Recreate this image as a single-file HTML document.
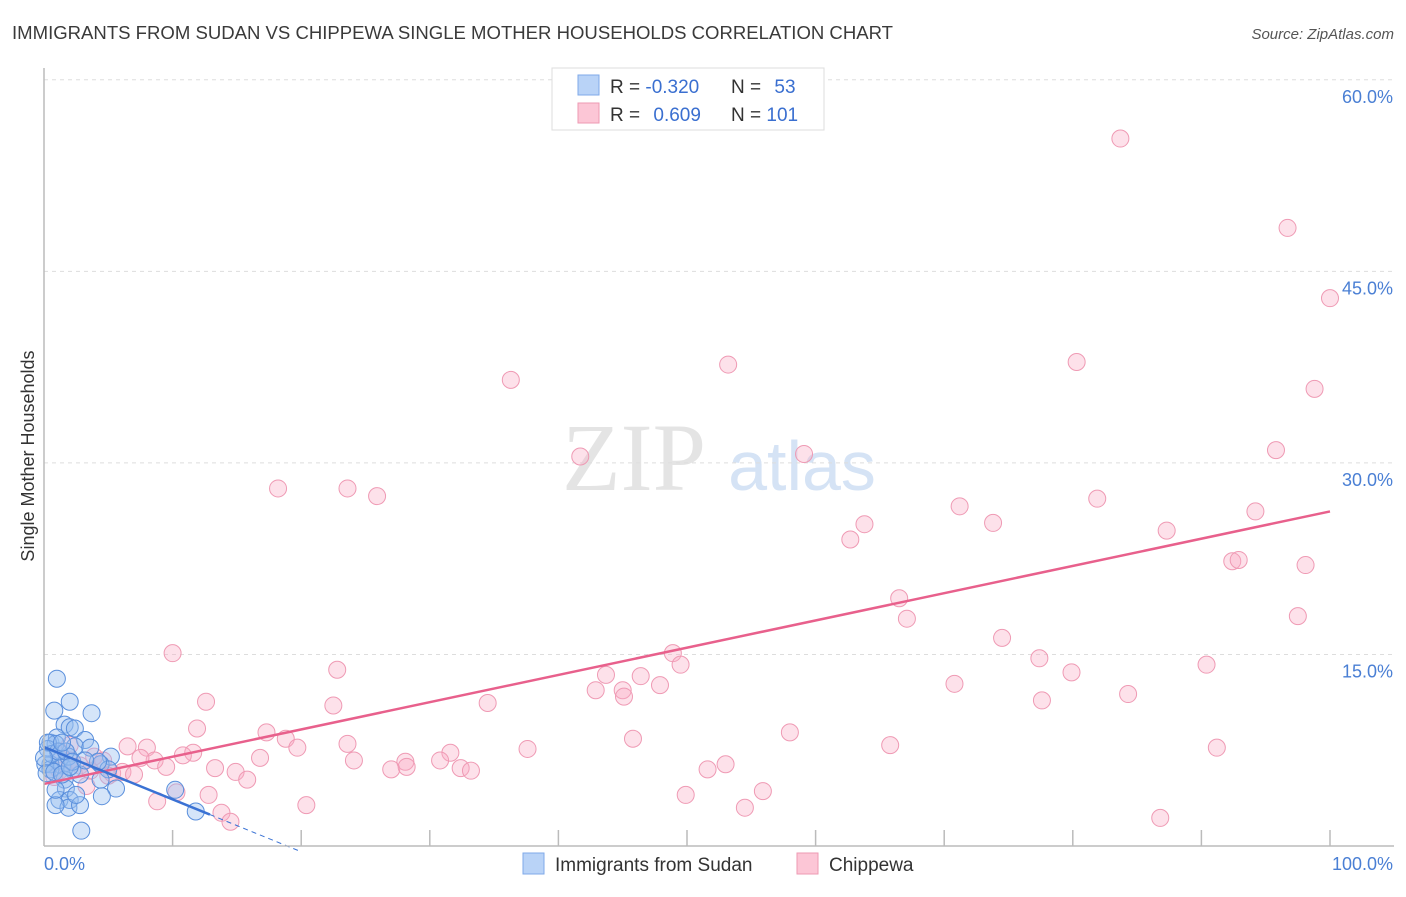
<!DOCTYPE html>
<html><head><meta charset="utf-8"><style>
body{margin:0;background:#fff;font-family:"Liberation Sans",sans-serif}
</style></head><body>
<svg id="c" width="1406" height="892" xmlns="http://www.w3.org/2000/svg" style="font-family:'Liberation Sans',sans-serif">
<text x="12" y="39" font-size="18" fill="#3a3a3a" textLength="881" lengthAdjust="spacingAndGlyphs">IMMIGRANTS FROM SUDAN VS CHIPPEWA SINGLE MOTHER HOUSEHOLDS CORRELATION CHART</text>
<text x="1394" y="39" font-size="15" fill="#555" font-style="italic" text-anchor="end">Source: ZipAtlas.com</text>
<text x="634" y="490" font-size="96" fill="#e4e4e4" font-family="Liberation Serif,serif" text-anchor="middle">ZIP</text>
<text x="802" y="490" font-size="70" fill="#d5e3f5" text-anchor="middle">atlas</text>
<text transform="translate(34,456) rotate(-90)" font-size="18" fill="#333" text-anchor="middle">Single Mother Households</text>
<g id="grid"></g><g id="pts"></g><g id="lines"></g>
<line x1="44" y1="68" x2="44" y2="846" stroke="#bbb" stroke-width="1.5"/>
<line x1="44" y1="846" x2="1394" y2="846" stroke="#bbb" stroke-width="1.5"/>
<text x="44" y="870" font-size="18" fill="#4a7fd4">0.0%</text>
<text x="1393" y="870" font-size="18" fill="#4a7fd4" text-anchor="end">100.0%</text>
<g>
<rect x="552" y="68" width="272" height="62" fill="#fff" stroke="#ddd"/>
<rect x="578" y="75" width="21" height="20" fill="#b9d3f7" stroke="#7fa9e8"/>
<rect x="578" y="103" width="21" height="20" fill="#fcc6d6" stroke="#ee9ab3"/>
<text x="610" y="93" font-size="19" fill="#333">R = <tspan fill="#3a6fd0">-0.320</tspan></text>
<text x="731" y="93" font-size="19" fill="#333">N = <tspan fill="#3a6fd0" dx="8">53</tspan></text>
<text x="610" y="121" font-size="19" fill="#333">R = <tspan fill="#3a6fd0" dx="8">0.609</tspan></text>
<text x="731" y="121" font-size="19" fill="#333">N = <tspan fill="#3a6fd0">101</tspan></text>
</g>
<g>
<rect x="523" y="853" width="21" height="21" fill="#b9d3f7" stroke="#7fa9e8"/>
<text x="555" y="871" font-size="19" fill="#333">Immigrants from Sudan</text>
<rect x="797" y="853" width="21" height="21" fill="#fcc6d6" stroke="#ee9ab3"/>
<text x="829" y="871" font-size="19" fill="#333">Chippewa</text>
</g>
</svg>
<script>
const yTicks=[15,30,45,60];
const yTickLabels=["15.0%","30.0%","45.0%","60.0%"];
const xTicks=[10,20,30,40,50,60,70,80,90,100];
const chippewaX=[83.7,96.7,100,98.8,80.3,53.2,36.3,41.7,59.1,95.8,18.2,23.6,25.9,71.2,81.9,94.2,63.8,73.8,62.7,87.3,92.4,92.9,98.1,66.5,67.1,97.5,74.5,10.0,48.9,77.4,22.8,49.5,43.7,46.4,79.9,90.4,70.8,47.9,42.9,45.0,45.1,84.3,12.6,22.5,34.5,77.6,11.9,17.3,18.8,45.8,58.0,6.5,8.0,19.7,23.6,11.6,28.1,31.6,37.6,65.8,91.2,4.6,8.6,10.8,16.8,24.1,30.8,32.4,33.2,9.5,13.3,14.9,15.8,27.0,28.2,51.6,53.0,5.3,6.1,3.3,7.0,5.0,10.3,12.8,8.8,49.9,55.9,20.4,13.8,54.5,14.5,86.8,2.0,2.8,1.2,3.6,1.2,2.0,3.9,0.8,7.5];
const chippewaY=[55.4,48.4,42.9,35.8,37.9,37.7,36.5,30.5,30.7,31.0,28.0,28.0,27.4,26.6,27.2,26.2,25.2,25.3,24.0,24.7,22.3,22.4,22.0,19.4,17.8,18.0,16.3,15.1,15.1,14.7,13.8,14.2,13.4,13.3,13.6,14.2,12.7,12.6,12.2,12.2,11.7,11.9,11.3,11.0,11.2,11.4,9.2,8.9,8.4,8.4,8.9,7.8,7.7,7.7,8.0,7.3,6.6,7.3,7.6,7.9,7.7,6.7,6.7,7.1,6.9,6.7,6.7,6.1,5.9,6.2,6.1,5.8,5.2,6.0,6.2,6.0,6.4,5.7,5.8,4.7,5.6,5.5,4.2,4.0,3.5,4.0,4.3,3.2,2.6,3.0,1.9,2.2,6.7,6.3,5.9,5.9,7.4,7.9,7.0,5.4,6.9];
const sudanX=[1.0,2.0,0.8,3.7,1.6,0.5,1.0,2.0,2.4,3.2,5.2,1.2,2.4,0.9,0.3,0.5,1.4,2.2,1.9,2.8,1.6,4.4,5.0,5.6,4.5,1.7,1.2,2.0,1.9,0.9,2.8,0.9,2.9,10.2,11.8,0.1,0.5,0.6,1.1,1.7,2.2,0.3,0.0,1.4,3.6,4.2,0.2,0.8,1.4,2.0,3.2,4.4,2.5];
const sudanY=[13.1,11.3,10.6,10.4,9.5,8.1,8.5,9.3,9.2,8.3,7.0,6.7,7.8,8.0,7.6,6.4,6.3,6.0,7.0,5.6,5.2,6.4,6.0,4.5,3.9,4.5,3.6,3.6,3.0,3.2,3.2,4.4,1.2,4.4,2.7,6.4,6.0,7.2,7.4,7.4,6.6,8.1,6.9,8.1,7.7,6.6,5.7,5.8,5.6,6.2,6.7,5.2,4.0];
const chippewaTrend=[4.86,26.2];
const sudanTrend=[7.75,-0.41];
const NS='http://www.w3.org/2000/svg';
const sx=v=>44+v*12.86, sy=v=>846-v*12.77;
function mk(t,a,p){const e=document.createElementNS(NS,t);for(const k in a)e.setAttribute(k,a[k]);document.getElementById(p).appendChild(e);return e;}
yTicks.forEach((t,i)=>{
 const g=mk('line',{x1:44,x2:1394,y1:sy(t),y2:sy(t),stroke:'#ddd','stroke-dasharray':'4,4'},'grid');
 
 
 const l=mk('text',{x:1393,y:sy(t)+23,'font-size':18,fill:'#4a7fd4','text-anchor':'end'},'grid');l.textContent=yTickLabels[i];
 
 
});
xTicks.forEach(t=>{
 const k=mk('line',{x1:sx(t),x2:sx(t),y1:830,y2:846,stroke:'#bbb','stroke-width':1.5},'grid');
 
 
});
chippewaX.forEach((x,i)=>{
 const c=mk('circle',{cx:sx(x),cy:sy(chippewaY[i]),r:8.5,fill:'rgba(248,170,195,0.35)',stroke:'#ef9ab4','stroke-width':1},'pts');
 
 
});
sudanX.forEach((x,i)=>{
 const c=mk('circle',{cx:sx(x),cy:sy(sudanY[i]),r:8.5,fill:'rgba(150,190,240,0.4)',stroke:'#5a8fdc','stroke-width':1},'pts');
 
 
});
const pl=mk('line',{x1:sx(0),y1:sy(chippewaTrend[0]),x2:sx(100),y2:sy(chippewaTrend[1]),stroke:'#e8608c','stroke-width':2.5},'lines');


const bs=mk('line',{x1:sx(0),y1:sy(sudanTrend[0]),x2:sx(12.9),y2:sy(sudanTrend[0]+sudanTrend[1]*12.9),stroke:'#3a72d4','stroke-width':2.5},'lines');


const bd=mk('line',{x1:sx(12.9),y1:sy(sudanTrend[0]+sudanTrend[1]*12.9),x2:sx(20),y2:sy(sudanTrend[0]+sudanTrend[1]*20),stroke:'#3a72d4','stroke-width':1,'stroke-dasharray':'5,4'},'lines');


</script>
</body></html>
